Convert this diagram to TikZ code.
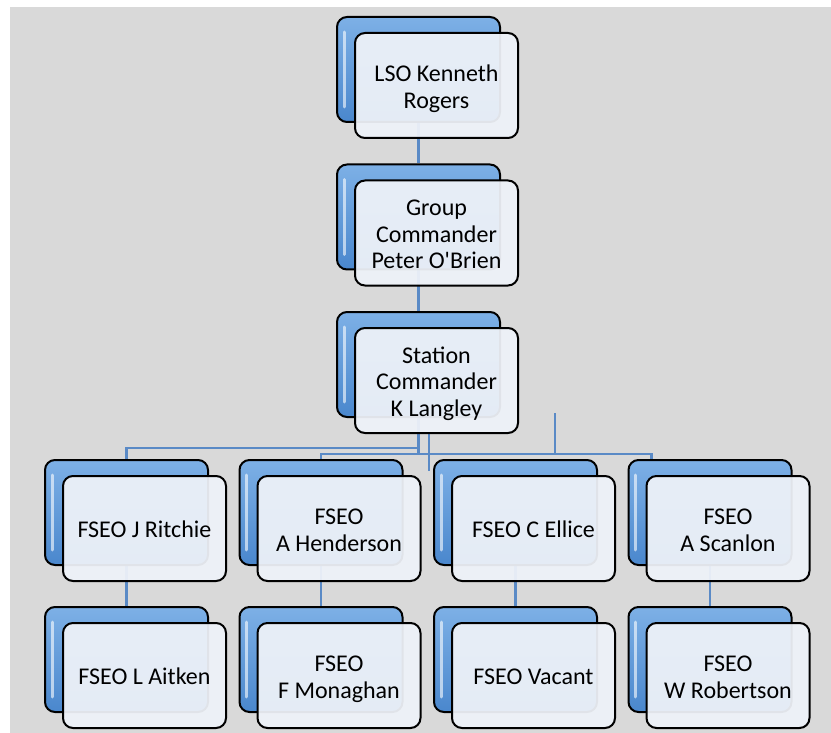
\documentclass[tikz,border=0pt]{standalone}
\usepackage{fontspec}
\setmainfont{Carlito}
\usetikzlibrary{calc}
\definecolor{sheet}{HTML}{D9D9D9}
\definecolor{linkblue}{HTML}{5A8AC6}
\definecolor{boxtop}{HTML}{7DB0E6}
\definecolor{boxbot}{HTML}{4A87CD}
\definecolor{paper}{HTML}{EEF2F8}
\pgfdeclarelayer{sheetlayer}
\pgfdeclarelayer{linklayer}
\pgfsetlayers{sheetlayer,linklayer,main}
\tikzset{
  backbox/.style={draw=black, line width=2pt, rounded corners=10pt,
    top color=boxtop, bottom color=boxbot,
    minimum width=163pt, minimum height=105pt, inner sep=0pt},
  frontbox/.style={draw=black, line width=2pt, rounded corners=10pt,
    fill=paper, fill opacity=0.94, text opacity=1,
    minimum width=163pt, minimum height=105pt, inner sep=0pt,
    align=center, font=\fontsize{24}{26.5}\selectfont, text=black},
  glare/.style={white, opacity=0.6, line width=3pt, line cap=round},
  link/.style={linkblue, line width=2.7pt}
}
% back box + front box with the text
\newcommand{\orgunit}[4]{%
  \node[backbox] (#1-b) at (#2,#3) {};
  \draw[glare] ($(#1-b.north west)+(8,16)$) -- ($(#1-b.south west)+(8,-16)$);
  \node[frontbox] (#1) at ($(#1-b)+(18,16)$)
    {\raisebox{-4pt}[\height][\depth]{\begin{tabular}{@{}c@{}}#4\end{tabular}}};
}
\begin{document}
\begin{tikzpicture}[x=1pt,y=-1pt]
    \useasboundingbox (0,0) rectangle (831,733);
    \begin{pgfonlayer}{sheetlayer}
        \fill[sheet] (10,7) rectangle (831,733);
    \end{pgfonlayer}

    % Chain of command
    \orgunit{lso}{418.5}{69.5}{LSO Kenneth\\Rogers}
    \orgunit{grp}{418.5}{217}{Group\\Commander\\Peter O\textquotesingle Brien}
    \orgunit{stn}{418.5}{364.5}{Station\\Commander\\K Langley}

    % FSEO rows
    \orgunit{rit}{126.5}{512.5}{FSEO J Ritchie}
    \orgunit{hen}{321}{512.5}{FSEO\\A Henderson}
    \orgunit{ell}{515.5}{512.5}{FSEO C Ellice}
    \orgunit{sca}{710}{512.5}{FSEO\\A Scanlon}
    \orgunit{ait}{126.5}{659.5}{FSEO L Aitken}
    \orgunit{mon}{321}{659.5}{FSEO\\F Monaghan}
    \orgunit{vac}{515.5}{659.5}{FSEO Vacant}
    \orgunit{rob}{710}{659.5}{FSEO\\W Robertson}

    \coordinate (drop4) at ($(sca-b.north west)+(24,0)$);
    \coordinate (stub) at (555,413);
    \coordinate (tail) at ($(stn.south)+(-7.5,0)$);

    % Connectors
    \begin{pgfonlayer}{linklayer}
        \draw[link] (lso-b.south) -- (grp-b.north);
        \draw[link] (grp-b.south) -- (stn-b.north);
        \draw[link] (stn-b.south) -- ++(0,30) -| (rit-b.north);
        \draw[link] (stn-b.south) -- ++(0,36) -| (hen-b.north);
        \draw[link] (stn-b.south) ++(0,36) -| (drop4);
        \draw[link] (stub) -- ++(0,40);
        \draw[link] (tail) -- ++(0,37);
        \draw[link] (rit-b.south) -- (ait-b.north);
        \draw[link] (hen-b.south) -- (mon-b.north);
        \draw[link] (ell-b.south) -- (vac-b.north);
        \draw[link] (sca-b.south) -- (rob-b.north);
    \end{pgfonlayer}
\end{tikzpicture}
\end{document}
